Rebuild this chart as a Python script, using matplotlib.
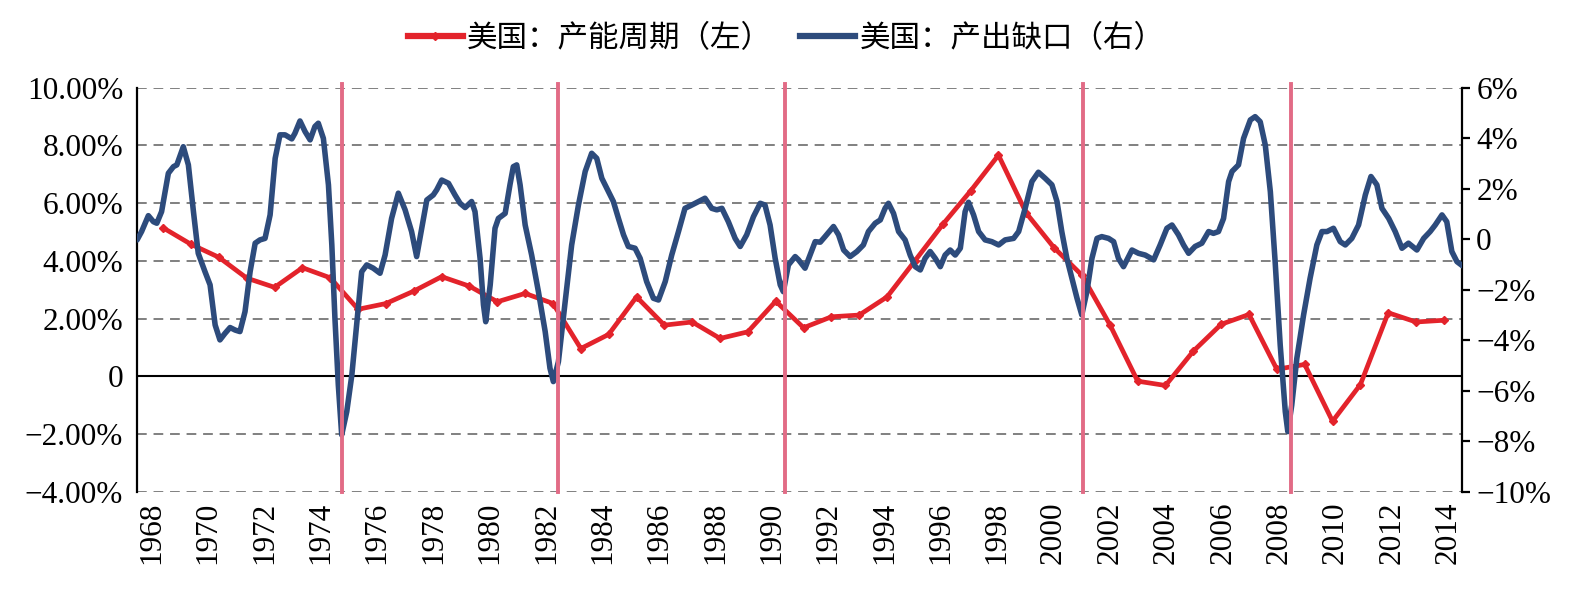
import matplotlib
matplotlib.use('Agg')
import matplotlib.pyplot as plt
from matplotlib.ticker import FuncFormatter
from matplotlib.lines import Line2D

# 美国：产能周期（左轴，年度，%）
cap_years = list(range(1968, 2015))
cap_cycle = [5.14, 4.57, 4.12, 3.40, 3.08, 3.76, 3.41, 2.32, 2.52, 2.95,
             3.45, 3.12, 2.58, 2.87, 2.52, 0.96, 1.45, 2.75, 1.77, 1.88,
             1.31, 1.54, 2.60, 1.68, 2.06, 2.12, 2.75, 4.00, 5.26, 6.42,
             7.66, 5.65, 4.45, 3.50, 1.79, -0.17, -0.32, 0.87, 1.80, 2.14,
             0.24, 0.41, -1.56, -0.29, 2.20, 1.88, 1.94]

# 美国：产出缺口（右轴，%）
gap_time = [1967.48, 1967.64, 1967.88, 1968.06, 1968.18, 1968.35, 1968.59, 1968.77, 1968.89, 1969.12,
            1969.30, 1969.48, 1969.65, 1969.89, 1970.07, 1970.25, 1970.42, 1970.60, 1970.78, 1970.96,
            1971.13, 1971.31, 1971.49, 1971.67, 1971.84, 1972.02, 1972.20, 1972.38, 1972.55, 1972.73,
            1972.97, 1973.08, 1973.26, 1973.44, 1973.62, 1973.79, 1973.91, 1974.09, 1974.27, 1974.39,
            1974.50, 1974.62, 1974.74, 1974.92, 1975.10, 1975.27, 1975.45, 1975.63, 1975.86, 1976.10,
            1976.28, 1976.51, 1976.75, 1976.99, 1977.22, 1977.40, 1977.58, 1977.76, 1977.99, 1978.11,
            1978.29, 1978.53, 1978.76, 1978.94, 1979.12, 1979.35, 1979.47, 1979.65, 1979.77, 1979.85,
            1980.01, 1980.18, 1980.30, 1980.54, 1980.71, 1980.83, 1980.95, 1981.07, 1981.25, 1981.48,
            1981.72, 1981.96, 1982.13, 1982.25, 1982.43, 1982.67, 1982.90, 1983.14, 1983.38, 1983.61,
            1983.79, 1983.97, 1984.15, 1984.38, 1984.56, 1984.74, 1984.91, 1985.15, 1985.33, 1985.56,
            1985.80, 1985.98, 1986.22, 1986.45, 1986.69, 1986.92, 1987.16, 1987.40, 1987.63, 1987.87,
            1988.05, 1988.23, 1988.46, 1988.70, 1988.88, 1989.11, 1989.35, 1989.59, 1989.76, 1989.94,
            1990.12, 1990.30, 1990.41, 1990.59, 1990.83, 1990.95, 1991.18, 1991.36, 1991.54, 1991.72,
            1991.89, 1992.19, 1992.37, 1992.55, 1992.78, 1993.02, 1993.25, 1993.43, 1993.67, 1993.85,
            1994.02, 1994.14, 1994.32, 1994.50, 1994.73, 1994.91, 1995.09, 1995.27, 1995.44, 1995.62,
            1995.80, 1995.98, 1996.15, 1996.33, 1996.51, 1996.69, 1996.86, 1996.98, 1997.16, 1997.34,
            1997.57, 1997.81, 1998.05, 1998.28, 1998.58, 1998.76, 1998.99, 1999.23, 1999.46, 1999.70,
            1999.94, 2000.12, 2000.29, 2000.47, 2000.65, 2000.83, 2001.00, 2001.18, 2001.36, 2001.54,
            2001.71, 2001.95, 2002.13, 2002.30, 2002.48, 2002.78, 2003.01, 2003.25, 2003.55, 2003.78,
            2004.02, 2004.20, 2004.43, 2004.61, 2004.79, 2005.02, 2005.26, 2005.50, 2005.67, 2005.85,
            2006.03, 2006.21, 2006.33, 2006.56, 2006.74, 2006.98, 2007.15, 2007.33, 2007.51, 2007.69,
            2007.86, 2008.04, 2008.22, 2008.31, 2008.45, 2008.63, 2008.87, 2009.10, 2009.34, 2009.52,
            2009.70, 2009.93, 2010.17, 2010.35, 2010.58, 2010.82, 2011.06, 2011.26, 2011.47, 2011.65,
            2011.89, 2012.12, 2012.36, 2012.59, 2012.89, 2013.13, 2013.36, 2013.54, 2013.78, 2013.95,
            2014.13, 2014.31, 2014.50]
gap_value = [-0.03, 0.30, 0.93, 0.69, 0.63, 1.09, 2.61, 2.87, 2.94, 3.66,
             2.94, 1.09, -0.56, -1.29, -1.81, -3.40, -3.99, -3.73, -3.50, -3.60,
             -3.66, -2.87, -1.29, -0.16, -0.03, 0.03, 0.96, 3.20, 4.13, 4.13,
             3.97, 4.19, 4.68, 4.26, 3.93, 4.46, 4.59, 3.99, 2.15, -0.23,
             -3.13, -5.77, -7.75, -6.83, -5.38, -3.40, -1.29, -1.02, -1.15, -1.35,
             -0.63, 0.82, 1.82, 1.16, 0.30, -0.69, 0.43, 1.55, 1.75, 1.95,
             2.34, 2.21, 1.75, 1.42, 1.25, 1.49, 1.09, -0.76, -2.60, -3.27,
             -1.81, 0.43, 0.82, 1.02, 2.15, 2.87, 2.94, 2.15, 0.56, -0.63,
             -2.08, -3.66, -5.11, -5.64, -4.85, -2.47, -0.23, 1.35, 2.68, 3.40,
             3.20, 2.41, 2.01, 1.49, 0.82, 0.17, -0.29, -0.36, -0.76, -1.68,
             -2.34, -2.41, -1.68, -0.63, 0.30, 1.22, 1.35, 1.49, 1.62, 1.22,
             1.16, 1.22, 0.69, 0.03, -0.29, 0.17, 0.89, 1.42, 1.35, 0.56,
             -0.76, -1.81, -2.08, -1.02, -0.69, -0.82, -1.15, -0.63, -0.10, -0.12,
             0.10, 0.50, 0.17, -0.43, -0.69, -0.49, -0.23, 0.30, 0.63, 0.76,
             1.22, 1.42, 1.02, 0.30, -0.03, -0.63, -1.09, -1.22, -0.76, -0.49,
             -0.76, -1.09, -0.63, -0.43, -0.63, -0.36, 1.09, 1.46, 0.96, 0.30,
             -0.03, -0.10, -0.23, -0.03, 0.03, 0.30, 1.22, 2.28, 2.65, 2.41,
             2.15, 1.49, 0.30, -0.76, -1.55, -2.34, -3.00, -2.08, -0.76, 0.03,
             0.10, 0.03, -0.10, -0.76, -1.09, -0.43, -0.56, -0.63, -0.82, -0.23,
             0.43, 0.56, 0.17, -0.23, -0.56, -0.29, -0.16, 0.30, 0.23, 0.30,
             0.82, 2.28, 2.68, 2.94, 3.99, 4.72, 4.85, 4.65, 3.73, 1.88,
             -0.89, -4.19, -6.83, -7.62, -6.57, -4.72, -3.00, -1.55, -0.23, 0.30,
             0.30, 0.43, -0.10, -0.23, 0.03, 0.56, 1.75, 2.48, 2.15, 1.22,
             0.82, 0.30, -0.36, -0.16, -0.43, 0.03, 0.30, 0.56, 0.96, 0.69,
             -0.49, -0.89, -1.05]

# 衰退低点竖线（年份）
recession_marks = [1974.75, 1982.43, 1990.46, 2001.05, 2008.42]

tick_years = list(range(1968, 2015, 2))
left_ticks = [-4, -2, 0, 2, 4, 6, 8, 10]
right_ticks = [-10, -8, -6, -4, -2, 0, 2, 4, 6]

RED = '#E3232B'
BLUE = '#2D4B7C'
PINK = '#E26B86'
GRID = '#808080'

plt.rcParams['font.family'] = ['Liberation Serif', 'Noto Sans CJK SC']
plt.rcParams['font.size'] = 22

fig = plt.figure(figsize=(15.72, 5.96), dpi=100)
ax = fig.add_axes([0.0872, 0.175, 0.843, 0.678])

# 左轴：网格、零线、年份刻度
ax.set_xlim(1967.48, 2014.50)
ax.set_ylim(-4, 10)
ax.set_yticks(left_ticks)
for v in left_ticks:
    if v != 0:
        ax.axhline(v, color=GRID, lw=1.4, ls=(0, (5, 3.5)), zorder=0)
ax.axhline(0, color='black', lw=1.5, zorder=1)
ax.set_xticks(tick_years)
ax.set_xticklabels([str(y) for y in tick_years], rotation=90)
ax.tick_params(axis='x', length=0, pad=7, labelsize=22.5)
ax.tick_params(axis='y', length=0, pad=10, labelsize=22.5)
ax.yaxis.set_major_formatter(FuncFormatter(
    lambda v, _: '0' if v == 0 else f'{v:.2f}%'.replace('-', '\u2212')))
for s in ['top', 'bottom', 'right']:
    ax.spines[s].set_visible(False)
ax.spines['left'].set_linewidth(1.6)

# 年度数据放在次横轴上（与 Excel 次坐标轴一致）
ax_cap = ax.twiny()
ax_cap.set_xlim(1967.06, 2014.66)
ax_cap.set_ylim(-4, 10)
ax_cap.plot(cap_years, cap_cycle, color=RED, lw=3.4, marker='D', ms=3.8,
            solid_joinstyle='round', zorder=3)
ax_cap.set_xticks([])
for s in ax_cap.spines.values():
    s.set_visible(False)

# 右轴：产出缺口
ax_gap = ax.twinx()
ax_gap.set_ylim(-10, 6)
ax_gap.set_yticks(right_ticks)
ax_gap.plot(gap_time, gap_value, color=BLUE, lw=4.0,
            solid_joinstyle='round', solid_capstyle='round', zorder=3)
for x in recession_marks:
    ax_gap.axvline(x, ymin=0, ymax=1.01, color=PINK, lw=2.8, zorder=5, clip_on=False)
ax_gap.yaxis.set_major_formatter(FuncFormatter(
    lambda v, _: '0' if v == 0 else f'{v:.0f}%'.replace('-', '\u2212')))
ax_gap.tick_params(axis='y', direction='out', length=6, width=1.6, pad=4, labelsize=22.5)
for s in ['top', 'bottom', 'left']:
    ax_gap.spines[s].set_visible(False)
ax_gap.spines['right'].set_linewidth(1.6)

handles = [
    Line2D([], [], color=RED, lw=4.5, marker='D', ms=4.5),
    Line2D([], [], color=BLUE, lw=4.5),
]
labels = ['美国：产能周期（左）', '美国：产出缺口（右）']
fig.legend(handles, labels, loc='center', bbox_to_anchor=(0.5, 0.936), ncol=2,
           frameon=False, handlelength=1.8, handletextpad=0.15, columnspacing=0.9,
           prop={'family': ['Noto Sans CJK SC'], 'size': 22})

fig.savefig('out.png', dpi=100, facecolor='white')
